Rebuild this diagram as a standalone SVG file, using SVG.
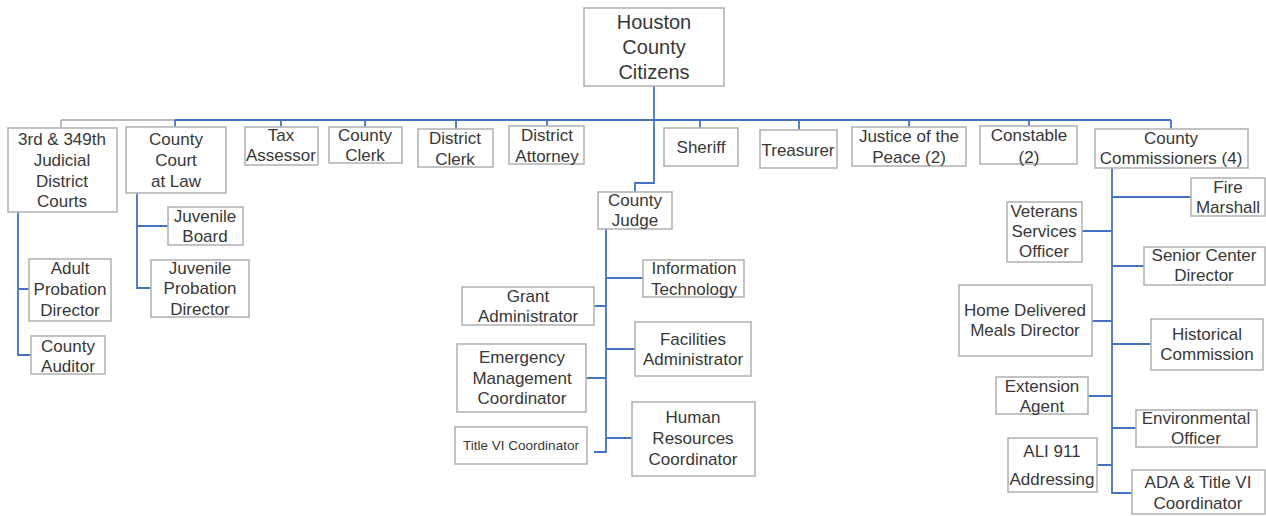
<svg xmlns="http://www.w3.org/2000/svg" width="1266" height="516" viewBox="0 0 1266 516">
<style>
.b{fill:#fff;stroke:#b4b4b4;stroke-width:1.6}
.t{font-family:"Liberation Sans",Arial,sans-serif;font-size:17px;fill:#383838;text-anchor:middle}
.l{fill:none;stroke:#4472C4;stroke-width:1.8}
</style>
<rect width="1266" height="516" fill="#fff"/>
<g id="connectors">
<path class="l" d="M654 86V120" stroke-width="3"/>
<path d="M61 120H175M61 120V128" fill="none" stroke="#a6a6a6" stroke-width="1.5"/>
<path class="l" d="M175 120H1029" stroke-width="3"/>
<path class="l" d="M1029 120H1171" stroke-width="2"/>
<path class="l" d="M175 120V127M281 120V127M365 120V127M456 120V129M547 120V126M700 120V128M799 120V130M909 120V128M1029 120V126M1171 120V129"/>
<path class="l" d="M654 120V183H635V192"/>
<path class="l" d="M18 212V355H31M18 289H29"/>
<path class="l" d="M137 193V288H151M137 226H168"/>
<path class="l" d="M606 229V452H594M606 278H643M594 306H606M606 349H635M586 378H606M606 438H632"/>
<path class="l" d="M1112 168V493H1132M1112 197H1191M1082 231H1112M1112 266H1144M1092 321H1112M1112 344H1151M1088 396H1112M1112 428H1136M1097 465H1112"/>
</g>
<g id="n-citizens"><rect class="b" x="584" y="8" width="140" height="78"/><text class="t" style="font-size:20px" x="654"><tspan x="654" y="29">Houston</tspan><tspan x="654" y="54">County</tspan><tspan x="654" y="79">Citizens</tspan></text></g>
<g id="n-district-courts"><rect class="b" x="8" y="128" width="109" height="84"/><text class="t"><tspan x="62" y="145">3rd &amp; 349th</tspan><tspan x="62" y="166">Judicial</tspan><tspan x="62" y="187">District</tspan><tspan x="62" y="207">Courts</tspan></text></g>
<g id="n-county-court"><rect class="b" x="126" y="127" width="100" height="66"/><text class="t"><tspan x="176" y="145">County</tspan><tspan x="176" y="166">Court</tspan><tspan x="176" y="187">at Law</tspan></text></g>
<g id="n-tax"><rect class="b" x="245" y="127" width="73" height="38"/><text class="t"><tspan x="281" y="141">Tax</tspan><tspan x="281" y="161">Assessor</tspan></text></g>
<g id="n-county-clerk"><rect class="b" x="329" y="127" width="73" height="36"/><text class="t"><tspan x="365" y="141">County</tspan><tspan x="365" y="161">Clerk</tspan></text></g>
<g id="n-district-clerk"><rect class="b" x="418" y="129" width="75" height="38"/><text class="t"><tspan x="455" y="144">District</tspan><tspan x="455" y="165">Clerk</tspan></text></g>
<g id="n-da"><rect class="b" x="509" y="126" width="75" height="38"/><text class="t"><tspan x="547" y="141">District</tspan><tspan x="547" y="162">Attorney</tspan></text></g>
<g id="n-sheriff"><rect class="b" x="664" y="128" width="74" height="38"/><text class="t" x="701" y="153">Sheriff</text></g>
<g id="n-treasurer"><rect class="b" x="760" y="130" width="77" height="38"/><text class="t" x="798" y="156">Treasurer</text></g>
<g id="n-jp"><rect class="b" x="852" y="127" width="114" height="39"/><text class="t"><tspan x="909" y="142">Justice of the</tspan><tspan x="909" y="163">Peace (2)</tspan></text></g>
<g id="n-constable"><rect class="b" x="980" y="126" width="97" height="38"/><text class="t"><tspan x="1029" y="141">Constable</tspan><tspan x="1029" y="163">(2)</tspan></text></g>
<g id="n-commissioners"><rect class="b" x="1095" y="129" width="153" height="39"/><text class="t"><tspan x="1171" y="144">County</tspan><tspan x="1171" y="164">Commissioners (4)</tspan></text></g>
<g id="n-judge"><rect class="b" x="598" y="192" width="74" height="37"/><text class="t"><tspan x="635" y="206">County</tspan><tspan x="635" y="226">Judge</tspan></text></g>
<g id="n-adult-probation"><rect class="b" x="29" y="259" width="82" height="62"/><text class="t"><tspan x="70" y="274">Adult</tspan><tspan x="70" y="295">Probation</tspan><tspan x="70" y="316">Director</tspan></text></g>
<g id="n-auditor"><rect class="b" x="31" y="336" width="74" height="38"/><text class="t"><tspan x="68" y="352">County</tspan><tspan x="68" y="372">Auditor</tspan></text></g>
<g id="n-juvenile-board"><rect class="b" x="168" y="207" width="75" height="38"/><text class="t"><tspan x="205" y="222">Juvenile</tspan><tspan x="205" y="242">Board</tspan></text></g>
<g id="n-juvenile-probation"><rect class="b" x="151" y="260" width="98" height="57"/><text class="t"><tspan x="200" y="274">Juvenile</tspan><tspan x="200" y="294">Probation</tspan><tspan x="200" y="315">Director</tspan></text></g>
<g id="n-it"><rect class="b" x="643" y="260" width="101" height="37"/><text class="t"><tspan x="694" y="274">Information</tspan><tspan x="694" y="295">Technology</tspan></text></g>
<g id="n-grant"><rect class="b" x="462" y="287" width="132" height="38"/><text class="t"><tspan x="528" y="302">Grant</tspan><tspan x="528" y="322">Administrator</tspan></text></g>
<g id="n-facilities"><rect class="b" x="635" y="322" width="116" height="54"/><text class="t"><tspan x="693" y="345">Facilities</tspan><tspan x="693" y="365">Administrator</tspan></text></g>
<g id="n-emergency"><rect class="b" x="457" y="344" width="129" height="68"/><text class="t"><tspan x="522" y="363">Emergency</tspan><tspan x="522" y="384">Management</tspan><tspan x="522" y="404">Coordinator</tspan></text></g>
<g id="n-title6"><rect class="b" x="455" y="427" width="132" height="37"/><text class="t" style="font-size:13.5px" x="521" y="450">Title VI Coordinator</text></g>
<g id="n-hr"><rect class="b" x="632" y="402" width="123" height="74"/><text class="t"><tspan x="693" y="423">Human</tspan><tspan x="693" y="444">Resources</tspan><tspan x="693" y="465">Coordinator</tspan></text></g>
<g id="n-fire"><rect class="b" x="1191" y="178" width="74" height="38"/><text class="t"><tspan x="1228" y="193">Fire</tspan><tspan x="1228" y="213">Marshall</tspan></text></g>
<g id="n-veterans"><rect class="b" x="1007" y="202" width="75" height="60"/><text class="t"><tspan x="1044" y="217">Veterans</tspan><tspan x="1044" y="237">Services</tspan><tspan x="1044" y="257">Officer</tspan></text></g>
<g id="n-senior"><rect class="b" x="1144" y="247" width="121" height="38"/><text class="t"><tspan x="1204" y="261">Senior Center</tspan><tspan x="1204" y="281">Director</tspan></text></g>
<g id="n-meals"><rect class="b" x="959" y="285" width="133" height="71"/><text class="t"><tspan x="1025" y="316">Home Delivered</tspan><tspan x="1025" y="336">Meals Director</tspan></text></g>
<g id="n-historical"><rect class="b" x="1151" y="319" width="112" height="51"/><text class="t"><tspan x="1207" y="340">Historical</tspan><tspan x="1207" y="360">Commission</tspan></text></g>
<g id="n-extension"><rect class="b" x="996" y="377" width="92" height="37"/><text class="t"><tspan x="1042" y="392">Extension</tspan><tspan x="1042" y="412">Agent</tspan></text></g>
<g id="n-environmental"><rect class="b" x="1136" y="410" width="121" height="37"/><text class="t"><tspan x="1196" y="424">Environmental</tspan><tspan x="1196" y="444">Officer</tspan></text></g>
<g id="n-ali"><rect class="b" x="1008" y="438" width="89" height="54"/><text class="t"><tspan x="1052" y="457">ALI 911</tspan><tspan x="1052" y="485">Addressing</tspan></text></g>
<g id="n-ada"><rect class="b" x="1132" y="470" width="133" height="44"/><text class="t"><tspan x="1198" y="488">ADA &amp; Title VI</tspan><tspan x="1198" y="509">Coordinator</tspan></text></g>
</svg>
